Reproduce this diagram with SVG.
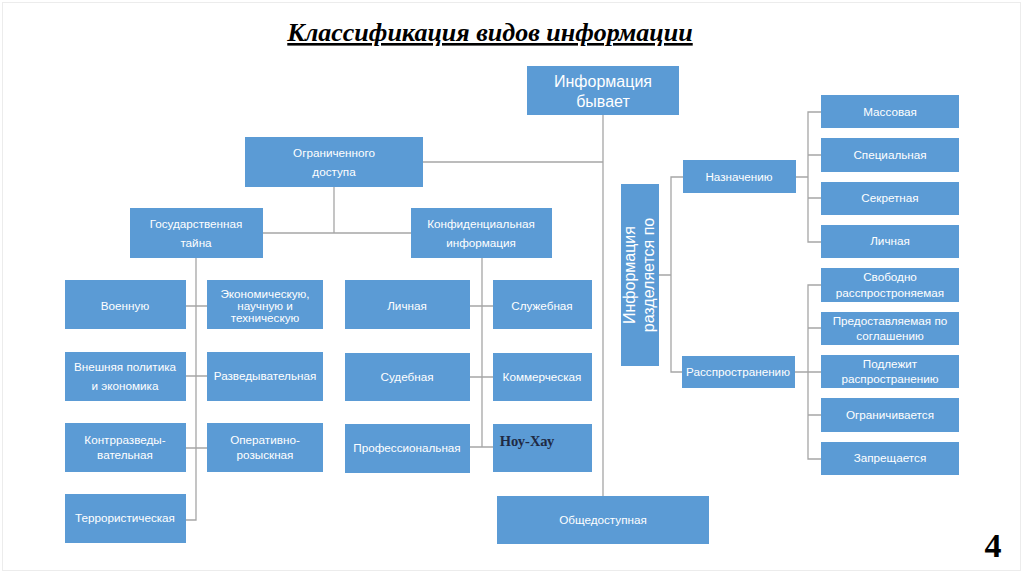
<svg xmlns="http://www.w3.org/2000/svg" width="1024" height="574" viewBox="0 0 1024 574">
<style>
.b{fill:#5b9bd5}
.t{font-family:"Liberation Sans",Arial,sans-serif;font-size:11.7px;fill:#ffffff;text-anchor:middle}
.big{font-size:16px}
.c{fill:none;stroke:#a6a6a6;stroke-width:1.3}
</style>
<rect x="0" y="0" width="1024" height="574" fill="#ffffff"/>
<rect x="2.5" y="2.5" width="1018" height="568" fill="none" stroke="#ececec" stroke-width="1"/>
<text x="490" y="41" font-family="'Liberation Serif','Times New Roman',serif" font-size="26" font-weight="bold" font-style="italic" text-anchor="middle" text-decoration="underline" fill="#000">Классификация видов информации</text>
<text x="993" y="557" font-family="'Liberation Serif','Times New Roman',serif" font-size="34" font-weight="bold" text-anchor="middle" fill="#000">4</text>

<g id="connectors">
<path class="c" d="M603,115 V496 M423,162 H603 M334,187 V233 M263,233 H411"/>
<path class="c" d="M196,258 V520 H186 M186,306 H207 M186,376 H207 M186,448 H207"/>
<path class="c" d="M482,258 V447 H470 M470,306 H493 M470,377 H493 M482,447 H493"/>
<path class="c" d="M659,275 H671 M683,177 H671 V372 H683"/>
<path class="c" d="M796,177 H808 M821,112 H808 V242 H821 M808,155 H821 M808,198 H821"/>
<path class="c" d="M795,372 H808 M821,285 H808 V459 H821 M808,328 H821 M808,372 H821 M808,415 H821"/>
</g>

<g id="root"><rect class="b" x="527" y="66" width="152" height="49"/><text class="t big" x="603" y="87">Информация</text><text class="t big" x="603" y="107">бывает</text></g>
<g id="limited"><rect class="b" x="245" y="137" width="178" height="50"/><text class="t" x="334" y="157">Ограниченного</text><text class="t" x="334" y="176">доступа</text></g>
<g id="state"><rect class="b" x="130" y="208" width="133" height="50"/><text class="t" x="196" y="228">Государственная</text><text class="t" x="196" y="247">тайна</text></g>
<g id="conf"><rect class="b" x="411" y="208" width="141" height="50"/><text class="t" x="481" y="228">Конфиденциальная</text><text class="t" x="481" y="247">информация</text></g>

<g id="military"><rect class="b" x="65" y="280" width="121" height="49"/><text class="t" x="125" y="310">Военную</text></g>
<g id="econ"><rect class="b" x="207" y="280" width="116" height="49"/><text class="t" x="265" y="298">Экономическую,</text><text class="t" x="265" y="310">научную и</text><text class="t" x="265" y="322">техническую</text></g>
<g id="foreign"><rect class="b" x="65" y="352" width="121" height="49"/><text class="t" x="125" y="371">Внешняя политика</text><text class="t" x="125" y="390">и экономика</text></g>
<g id="intel"><rect class="b" x="207" y="352" width="116" height="49"/><text class="t" x="265" y="380">Разведывательная</text></g>
<g id="counter"><rect class="b" x="65" y="423" width="121" height="49"/><text class="t" x="125" y="444">Контрразведы-</text><text class="t" x="125" y="459">вательная</text></g>
<g id="operative"><rect class="b" x="207" y="423" width="116" height="49"/><text class="t" x="265" y="444">Оперативно-</text><text class="t" x="265" y="459">розыскная</text></g>
<g id="terror"><rect class="b" x="65" y="494" width="121" height="49"/><text class="t" x="125" y="522">Террористическая</text></g>

<g id="personal"><rect class="b" x="345" y="280" width="125" height="49"/><text class="t" x="407" y="310">Личная</text></g>
<g id="service"><rect class="b" x="493" y="280" width="99" height="49"/><text class="t" x="542" y="310">Служебная</text></g>
<g id="judicial"><rect class="b" x="345" y="353" width="125" height="48"/><text class="t" x="407" y="381">Судебная</text></g>
<g id="commercial"><rect class="b" x="493" y="353" width="99" height="48"/><text class="t" x="542" y="381">Коммерческая</text></g>
<g id="professional"><rect class="b" x="345" y="424" width="125" height="49"/><text class="t" x="407" y="452">Профессиональная</text></g>
<g id="knowhow"><rect class="b" x="493" y="424" width="99" height="48"/><text x="527" y="446" font-family="'Liberation Serif','Times New Roman',serif" font-size="14.5" font-weight="bold" text-anchor="middle" fill="#1f2a44">Ноу-Хау</text></g>

<g id="public"><rect class="b" x="497" y="496" width="212" height="48"/><text class="t" x="603" y="524">Общедоступная</text></g>

<g id="divided"><rect class="b" x="621" y="184" width="38" height="182"/><g transform="translate(640,275) rotate(-90)"><text class="t big" x="0" y="-5">Информация</text><text class="t big" x="0" y="14">разделяется по</text></g></g>
<g id="purpose"><rect class="b" x="683" y="160" width="113" height="33"/><text class="t" x="739" y="181">Назначению</text></g>
<g id="spread"><rect class="b" x="682" y="356" width="113" height="32"/><text class="t" x="738" y="376">Расспространению</text></g>

<g id="mass"><rect class="b" x="821" y="95" width="138" height="33"/><text class="t" x="890" y="116">Массовая</text></g>
<g id="special"><rect class="b" x="821" y="138" width="138" height="34"/><text class="t" x="890" y="159">Специальная</text></g>
<g id="secret"><rect class="b" x="821" y="182" width="138" height="33"/><text class="t" x="890" y="202">Секретная</text></g>
<g id="private"><rect class="b" x="821" y="225" width="138" height="33"/><text class="t" x="890" y="245">Личная</text></g>

<g id="free"><rect class="b" x="821" y="268" width="138" height="34"/><text class="t" x="890" y="281">Свободно</text><text class="t" x="890" y="297">расспростроняемая</text></g>
<g id="agreement"><rect class="b" x="821" y="312" width="138" height="33"/><text class="t" x="890" y="325">Предоставляемая по</text><text class="t" x="890" y="340">соглашению</text></g>
<g id="subject"><rect class="b" x="821" y="355" width="138" height="33"/><text class="t" x="890" y="368">Подлежит</text><text class="t" x="890" y="383">распространению</text></g>
<g id="restricted"><rect class="b" x="821" y="398" width="138" height="34"/><text class="t" x="890" y="419">Ограничивается</text></g>
<g id="forbidden"><rect class="b" x="821" y="442" width="138" height="33"/><text class="t" x="890" y="462">Запрещается</text></g>
</svg>
